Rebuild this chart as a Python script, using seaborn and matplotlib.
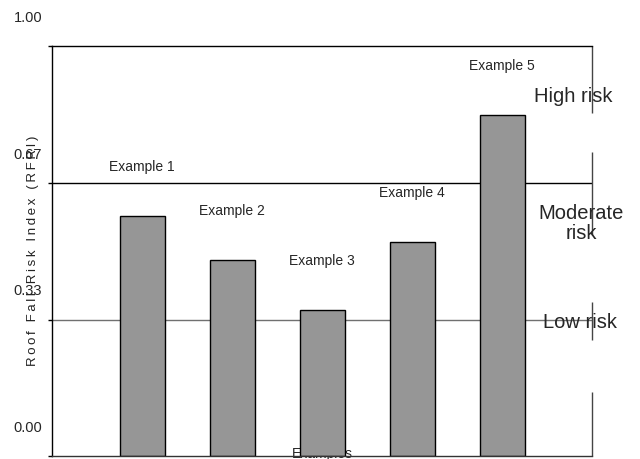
import numpy as np
import pandas as pd
import seaborn as sns
import matplotlib.pyplot as plt
import matplotlib.transforms as mtransforms

#%% data
examples = ['Example 1', 'Example 2', 'Example 3', 'Example 4', 'Example 5']
rfri = [0.586, 0.479, 0.357, 0.523, 0.833]
tick_values = [0.0, 1 / 3, 2 / 3, 1.0]
tick_labels = ['0.00', '0.33', '0.67', '1.00']
risk_labels = ['High risk', 'Moderate\nrisk', 'Low risk']
risk_y = [0.877, 0.567, 0.325]

df = pd.DataFrame({'example': examples, 'rfri': rfri})

#%% style
sns.set_style('white')
plt.rcParams['font.family'] = ['Liberation Sans', 'DejaVu Sans']

fig = plt.figure(figsize=(6.4, 4.59), dpi=100)
ax = fig.add_axes([0.08125, 0.0065, 0.84375, 0.8922])

# risk boundaries
ax.axhline(2 / 3, color='black', lw=1, zorder=0)
ax.axhline(1 / 3, color='#707070', lw=1, zorder=0)

sns.barplot(data=df, x='example', y='rfri', color='#969696', saturation=1,
            edgecolor='black', linewidth=1, width=0.5, ax=ax, zorder=2)

for i, row in df.iterrows():
    ax.annotate(row['example'], (i, row['rfri']), xytext=(0, 35.5),
                textcoords='offset points', ha='center', va='center', fontsize=10)

ax.set_xlim(-1, 5)
ax.set_ylim(0, 1)
ax.set_xticks([])
ax.set_yticks(tick_values)
ax.set_yticklabels(tick_labels, fontsize=10.5)
ax.tick_params(axis='y', direction='out', length=3, width=1, color='black', left=True, pad=4)
# tick labels sit ~30px above their lines in the original
offset = mtransforms.ScaledTranslation(0, 0.30, fig.dpi_scale_trans)
for lab in ax.get_yticklabels():
    lab.set_transform(lab.get_transform() + offset)

for side in ['left', 'top']:
    ax.spines[side].set_color('black')
    ax.spines[side].set_linewidth(1)
ax.spines['bottom'].set_color('#333333')
ax.spines['bottom'].set_linewidth(1)
ax.spines['right'].set_visible(False)

# broken right border
segs = [(0.838, 1.0), (0.54, 0.742), (0.283, 0.376), (0.0, 0.156)]
for lo, hi in segs:
    ax.vlines(5, lo, hi, color='#444444', lw=1, clip_on=False)

for lab, y, x in zip(risk_labels, risk_y, [4.79, 4.88, 4.87]):
    ax.text(x, y, lab, ha='center', va='center', fontsize=14.5,
            linespacing=1.05, clip_on=False)

ylab = '\u2009'.join('Roof Fall Risk Index (RFRI)')
ax.set_ylabel(ylab, fontsize=9.5, color='#222222')
ax.yaxis.set_label_coords(-0.035, 0.5)
ax.yaxis.label.set_va('center')
ax.set_xlabel('Examples', fontsize=10)
ax.xaxis.set_label_coords(0.5, 0.022)

plt.savefig('out.png', dpi=100)
plt.close()
